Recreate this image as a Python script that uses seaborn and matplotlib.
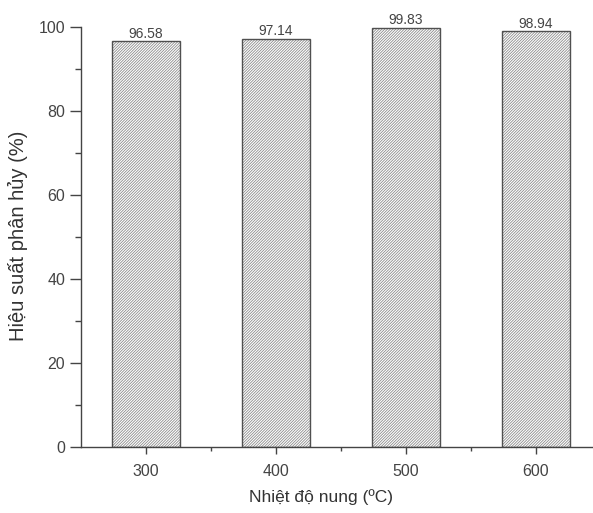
import matplotlib
matplotlib.use("Agg")
import matplotlib.pyplot as plt
import seaborn as sns
import pandas as pd
from matplotlib.ticker import MultipleLocator, FixedLocator

temps = ["300", "400", "500", "600"]
efficiency = [96.58, 97.14, 99.83, 98.94]
value_labels = ["96.58", "97.14", "99.83", "98.94"]

sns.set_style("ticks")
plt.rcParams['font.family'] = ['Liberation Sans', 'DejaVu Sans']
plt.rcParams['hatch.linewidth'] = 0.6

df = pd.DataFrame({"temp": temps, "eff": efficiency})

fig = plt.figure(figsize=(5.93, 5.13), dpi=100)
ax = fig.add_axes([81/593, 1-447/513, (593-81)/593, (447-27)/513])

# hatched fill (gray hatch)
sns.barplot(data=df, x="temp", y="eff", ax=ax, width=0.52, color="white",
            edgecolor="#8c8c8c", linewidth=0.0, saturation=1)
for p in ax.patches:
    p.set_hatch("////////////")
    p.set_facecolor("white")

# dark outlines
sns.barplot(data=df, x="temp", y="eff", ax=ax, width=0.52, fill=False,
            color="#505050", linewidth=1.0)

ax.bar_label(ax.containers[0], labels=value_labels, padding=0.5,
             fontsize=10, color="#444444")

ax.set_xlim(-0.5, 3.44)
ax.set_ylim(0, 100)
ax.yaxis.set_major_locator(MultipleLocator(20))
ax.yaxis.set_minor_locator(MultipleLocator(10))
ax.xaxis.set_minor_locator(FixedLocator([0.5, 1.5, 2.5]))

for s in ["top", "right"]:
    ax.spines[s].set_visible(False)
for s in ["left", "bottom"]:
    ax.spines[s].set_color("#444444")
    ax.spines[s].set_linewidth(1.0)

ax.tick_params(axis="y", which="major", length=8, width=1, colors="#444444",
               labelsize=11.5, labelcolor="#444444")
ax.tick_params(axis="y", which="minor", length=4, width=1, colors="#444444")
ax.tick_params(axis="x", which="major", length=5, width=1, colors="#444444",
               labelsize=11.5, labelcolor="#444444", pad=7)
ax.tick_params(axis="x", which="minor", length=3, width=1, colors="#444444")

ax.set_xlabel("Nhiệt độ nung (\u00baC)", fontsize=12.5, color="#333333")
ax.set_ylabel("Hiệu suất phân hủy (%)", fontsize=14.5, color="#333333")
ax.xaxis.set_label_coords((321-81)/512, -42/420)
ax.yaxis.set_label_coords(-53/512, (447-236)/420)

fig.savefig("out.png", dpi=100)
